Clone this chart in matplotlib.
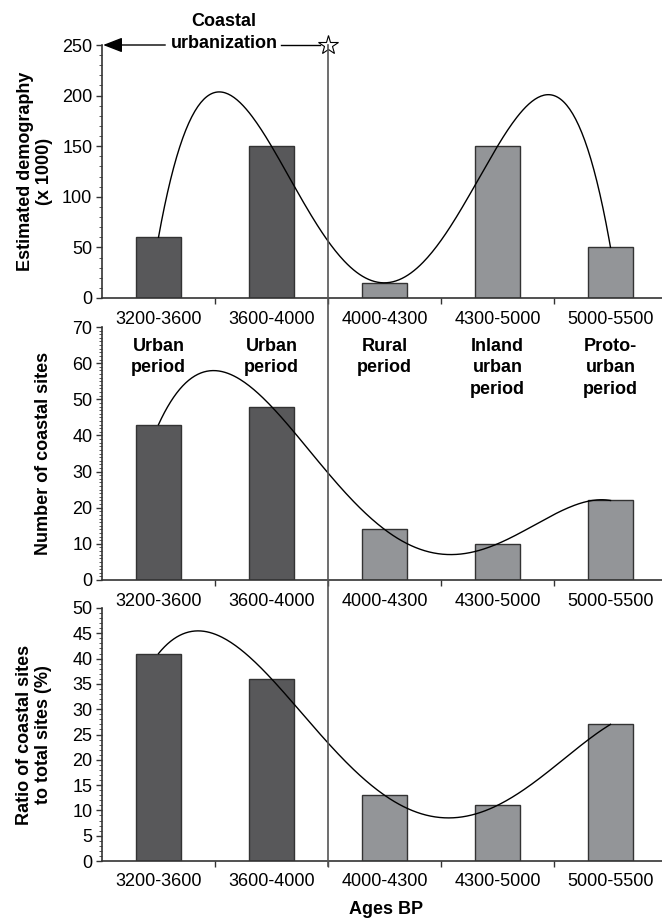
import numpy as np
import matplotlib
matplotlib.use('Agg')
import matplotlib.pyplot as plt
from matplotlib.ticker import MultipleLocator
from matplotlib.transforms import blended_transform_factory
from matplotlib.lines import Line2D

plt.rcParams['font.family'] = ['Liberation Sans', 'DejaVu Sans']
plt.rcParams['font.size'] = 13

# data
ages = ['3200-3600', '3600-4000', '4000-4300', '4300-5000', '5000-5500']
periods = ['Urban\nperiod', 'Urban\nperiod', 'Rural\nperiod',
           'Inland\nurban\nperiod', 'Proto-\nurban\nperiod']
demography = [60, 150, 15, 150, 50]
coastal_sites = [43, 48, 14, 10, 22]
coastal_ratio = [41, 36, 13, 11, 27]

dark = '#58585a'
light = '#939598'
bar_colors = [dark, dark, light, light, light]

W, H = 662, 919
fig = plt.figure(figsize=(W / 100, H / 100), dpi=100)


def px_axes(left, top, right, bottom):
    return fig.add_axes([left / W, 1 - bottom / H, (right - left) / W, (bottom - top) / H])


def panel(ax, values, ymax, major, minor, ylabel, label_x):
    x = np.arange(len(ages))
    ax.bar(x, values, width=0.4, color=bar_colors, edgecolor='#333333', linewidth=1, zorder=2)
    # polynomial trendline (order 4) like the spreadsheet one
    coef = np.polyfit(x, values, 4)
    xs = np.linspace(0, 4, 300)
    ax.plot(xs, np.polyval(coef, xs), color='black', lw=1, zorder=3)

    ax.set_xlim(-0.5, 4.5)
    ax.set_ylim(0, ymax)
    ax.set_xticks([0.5, 1.5, 2.5, 3.5])
    ax.set_xticklabels([])
    ax.set_xticks(x, minor=True)
    ax.set_xticklabels(ages, minor=True)
    ax.tick_params(axis='x', which='major', length=4, width=1, color='#333333')
    ax.tick_params(axis='x', which='minor', length=0, pad=9)
    ax.yaxis.set_major_locator(MultipleLocator(major))
    ax.yaxis.set_minor_locator(MultipleLocator(minor))
    ax.tick_params(axis='y', which='major', length=4, width=1, pad=3, color='#333333')
    ax.tick_params(axis='y', which='minor', length=2.5, width=0.7, color='#555555')

    for s in ['top', 'right']:
        ax.spines[s].set_visible(False)
    for s in ['left', 'bottom']:
        ax.spines[s].set_linewidth(1.2)
        ax.spines[s].set_color('#333333')

    ax.text(label_x, 0.5, ylabel, transform=ax.transAxes, rotation=90,
            ha='center', va='center', weight='bold', linespacing=1.2)


ax1 = px_axes(102, 45, 667, 298)
ax2 = px_axes(102, 327, 667, 580)
ax3 = px_axes(102, 608, 667, 861)

panel(ax1, demography, 250, 50, 10, 'Estimated demography\n(x 1000)', (35 - 102) / 565)
panel(ax2, coastal_sites, 70, 10, 1, 'Number of coastal sites', (44 - 102) / 565)
panel(ax3, coastal_ratio, 50, 5, 1, 'Ratio of coastal sites\nto total sites (%)', (34 - 102) / 565)

# period names inside middle panel
for i, p in enumerate(periods):
    ax2.text(i, 67.0, p, ha='center', va='top', weight='bold', linespacing=1.35)

# vertical separator through all panels
trans = blended_transform_factory(ax1.transData, fig.transFigure)
fig.add_artist(Line2D([1.5, 1.5], [1 - 45 / H, 1 - 866 / H], transform=trans,
                      color='#555555', lw=1.2))

# coastal urbanization arrow
ax1.plot(1.5, 250, marker='*', ms=15, mfc='white', mec='black', mew=0.8,
         clip_on=False, zorder=6)
ax1.annotate('', xy=(-0.49, 250), xytext=(0.06, 250),
             arrowprops=dict(arrowstyle='-|>,head_length=0.9,head_width=0.35',
                             color='black', lw=1, shrinkA=0, shrinkB=0),
             annotation_clip=False)
ax1.plot([1.08, 1.43], [250, 250], color='black', lw=1, clip_on=False)

fig.text(224 / W, 1 - 22 / H, 'Coastal', ha='center', va='center', weight='bold')
fig.text(224 / W, 1 - 44 / H, 'urbanization', ha='center', va='center', weight='bold')
fig.text(386 / W, 1 - 910 / H, 'Ages BP', ha='center', va='center', weight='bold')

fig.savefig('out.png', dpi=100)
